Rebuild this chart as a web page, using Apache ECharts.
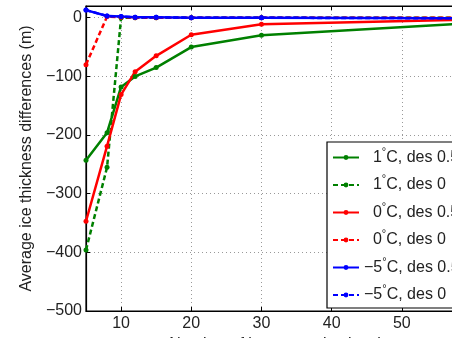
<!DOCTYPE html>
<html>
<head>
<meta charset="utf-8">
<script src="https://cdn.jsdelivr.net/npm/echarts@6/dist/echarts.min.js"></script>
<style>
html,body{margin:0;padding:0;background:#fff;}
#chart{width:452px;height:338px;}
</style>
</head>
<body>
<div id="chart"></div>
<script>
// ---- data ----
var xValues = [5, 8, 10, 12, 15, 20, 30, 60];
var green1Solid = [-243, -196, -118, -100, -85, -50, -30, -9];
var green1Dashed = [-396, -255, 0, 0, 0, 0, 0, 0];
var red0Solid = [-347, -219, -131, -92, -65, -29, -11, -3];
var red0Dashed = [-80, 2, 1, 0, 0, 0, 0, 0];
var blueM5Solid = [13, 3, 2, 1, 1, 0, 0, -1];
var blueM5Dashed = [13, 3, 2, 1, 1, 0, 0, -1];
var seriesNames = ['1C_a', '1C_b', '0C_a', '0C_b', 'm5C_a', 'm5C_b'];
var legendTemps = ['  1', '  1', '  0', '  0', '\u22125', '\u22125'];
var legendSuffix = ['C, des 0.5', 'C, des 0', 'C, des 0.5', 'C, des 0', 'C, des 0.5', 'C, des 0'];
var xTicks = [10, 20, 30, 40, 50, 60];
var yTicks = [-500, -400, -300, -200, -100, 0];
var xTitle = 'Number of basement ice levels';
var yTitle = 'Average ice thickness differences (m)';

function pairs(ys){ return xValues.map(function(x,i){ return [x, ys[i]]; }); }

var FONT = '"Liberation Sans", Arial, sans-serif';
var colors = ['#008000', '#008000', '#ff0000', '#ff0000', '#0000ff', '#0000ff'];
var datas = [green1Solid, green1Dashed, red0Solid, red0Dashed, blueM5Solid, blueM5Dashed];
var dashed = [false, true, false, true, false, true];

var series = datas.map(function(d, i){
  return {
    name: seriesNames[i],
    type: 'line',
    data: pairs(d),
    symbol: 'circle',
    symbolSize: 5,
    showSymbol: true,
    animation: false,
    itemStyle: {color: colors[i]},
    lineStyle: {color: colors[i], width: 2.5, type: dashed[i] ? [5, 3] : 'solid'}
  };
});

var chart = echarts.init(document.getElementById('chart'), null, {renderer: 'canvas'});
chart.setOption({
  animation: false,
  backgroundColor: '#fff',
  grid: {left: 86, top: 6, width: 386, height: 305, outerBoundsMode: 'none', containLabel: false,
    show: true, borderColor: '#000', borderWidth: 1.2, backgroundColor: 'transparent'},
  legend: {
    orient: 'vertical',
    left: 327, top: 142,
    backgroundColor: '#fff',
    borderColor: '#000', borderWidth: 1.2, borderRadius: 0,
    padding: [4, 40, 5, 5],
    itemWidth: 26, itemHeight: 6, itemGap: 8,
    data: seriesNames,
    formatter: function(name){
      var i = seriesNames.indexOf(name);
      return '{t|' + legendTemps[i] + '}{d|\u00B0}{t|' + legendSuffix[i] + '}';
    },
    textStyle: {
      fontFamily: FONT, fontSize: 16, color: '#222',
      rich: {
        t: {fontFamily: FONT, fontSize: 16, color: '#222'},
        d: {fontFamily: FONT, fontSize: 11, color: '#222', padding: [0, 0, 12, 0]}
      }
    }
  },
  xAxis: [{
    type: 'value', min: 5, max: 60, position: 'bottom',
    name: xTitle, nameLocation: 'middle', nameGap: 17,
    nameTextStyle: {fontFamily: FONT, fontSize: 16, color: '#222'},
    axisLine: {show: true, onZero: false, lineStyle: {color: '#000', width: 1.2}},
    axisTick: {show: true, inside: true, length: 4, customValues: xTicks, lineStyle: {color: '#000'}},
    axisLabel: {show: true, customValues: xTicks, margin: 5, fontFamily: FONT, fontSize: 16, color: '#222'},
    splitLine: {show: true, lineStyle: {color: '#999', width: 1, type: [1, 3]}}
  }, {
    type: 'value', min: 5, max: 60, position: 'top',
    axisLine: {show: true, onZero: false, lineStyle: {color: '#000', width: 1.2}},
    axisTick: {show: true, inside: true, length: 4, customValues: xTicks, lineStyle: {color: '#000'}},
    axisLabel: {show: false},
    splitLine: {show: false}
  }],
  yAxis: [{
    type: 'value', min: -500, max: 20, position: 'left',
    name: yTitle, nameLocation: 'middle', nameGap: 42, nameRotate: 90,
    nameTextStyle: {fontFamily: FONT, fontSize: 16, color: '#222'},
    axisLine: {show: true, onZero: false, lineStyle: {color: '#000', width: 1.2}},
    axisTick: {show: true, inside: true, length: 4, customValues: yTicks, lineStyle: {color: '#000'}},
    axisLabel: {show: true, customValues: yTicks, margin: 4, fontFamily: FONT, fontSize: 16, color: '#222',
      formatter: function(v){ return v < 0 ? '\u2212' + Math.abs(v) : String(v); }},
    splitLine: {show: true, lineStyle: {color: '#999', width: 1, type: [1, 3]}}
  }],
  series: series
});
</script>
</body>
</html>
